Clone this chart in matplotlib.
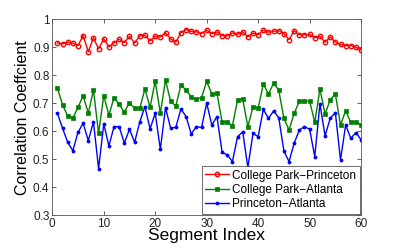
import numpy as np
import matplotlib.pyplot as plt

plt.rcParams['font.family'] = ['Liberation Sans', 'DejaVu Sans']

seg = np.arange(1, 61)
cp_princeton = [0.915, 0.912, 0.918, 0.915, 0.906, 0.942, 0.884, 0.934, 0.894, 0.930,
                0.902, 0.915, 0.929, 0.917, 0.939, 0.915, 0.941, 0.944, 0.922, 0.939,
                0.937, 0.952, 0.930, 0.918, 0.952, 0.963, 0.957, 0.955, 0.949, 0.961,
                0.949, 0.955, 0.942, 0.940, 0.951, 0.946, 0.955, 0.937, 0.951, 0.945,
                0.961, 0.954, 0.957, 0.959, 0.949, 0.927, 0.959, 0.945, 0.945, 0.946,
                0.934, 0.939, 0.918, 0.937, 0.918, 0.910, 0.906, 0.906, 0.900, 0.890]
cp_atlanta = [0.754, 0.694, 0.654, 0.647, 0.685, 0.727, 0.664, 0.747, 0.592, 0.727,
              0.657, 0.720, 0.697, 0.667, 0.702, 0.681, 0.681, 0.751, 0.685, 0.779,
              0.664, 0.783, 0.706, 0.690, 0.765, 0.747, 0.723, 0.715, 0.720, 0.778,
              0.733, 0.735, 0.632, 0.634, 0.619, 0.712, 0.714, 0.616, 0.688, 0.682,
              0.768, 0.733, 0.771, 0.747, 0.646, 0.604, 0.664, 0.706, 0.708, 0.708,
              0.631, 0.750, 0.661, 0.712, 0.733, 0.622, 0.673, 0.631, 0.634, 0.622]
princeton_atlanta = [0.664, 0.610, 0.560, 0.530, 0.596, 0.628, 0.566, 0.633, 0.466, 0.626,
                     0.547, 0.616, 0.616, 0.557, 0.607, 0.560, 0.633, 0.688, 0.608, 0.664,
                     0.535, 0.684, 0.610, 0.614, 0.679, 0.652, 0.590, 0.616, 0.613, 0.700,
                     0.622, 0.652, 0.524, 0.515, 0.491, 0.580, 0.598, 0.470, 0.592, 0.580,
                     0.678, 0.646, 0.672, 0.648, 0.529, 0.491, 0.557, 0.604, 0.616, 0.607,
                     0.509, 0.698, 0.583, 0.646, 0.666, 0.497, 0.622, 0.574, 0.595, 0.569]

fig = plt.figure(figsize=(3.99, 2.49), dpi=100)
ax = fig.add_axes([0.131, 0.1365, 0.774, 0.786])

ax.plot(seg, cp_princeton, color='red', ls='-', marker='o', lw=1, ms=3.2,
        mfc='none', mew=1, label='College Park\u2212Princeton')
ax.plot(seg, cp_atlanta, color='#008000', ls='-', marker='s', lw=1, ms=3.2,
        mew=0.5, label='College Park\u2212Atlanta')
ax.plot(seg, princeton_atlanta, color='blue', ls='-', marker='.', lw=1, ms=3.5,
        label='Princeton\u2212Atlanta')

ax.set_xlim(0, 60)
ax.set_ylim(0.3, 1)
ax.set_xticks(np.arange(0, 61, 10))
ax.set_yticks(np.arange(0.3, 1.01, 0.1))
ax.set_yticklabels(['0.3', '0.4', '0.5', '0.6', '0.7', '0.8', '0.9', '1'])
ax.tick_params(direction='in', top=True, right=True, labelsize=8.5, length=3,
               width=0.5, colors='#222222', pad=2)
for s in ax.spines.values():
    s.set_linewidth(0.6)
    s.set_color('#555555')

ax.set_xlabel('Segment Index', fontsize=12.5, labelpad=-1)
ax.set_ylabel('Correlation Coeffcient', fontsize=11.5, labelpad=2)

leg = ax.legend(loc='lower right', fontsize=8.5, fancybox=False, framealpha=1,
                edgecolor='#555555', handlelength=2, borderpad=0.3,
                labelspacing=0.2, handletextpad=0.3, borderaxespad=0.1)
leg.get_frame().set_linewidth(0.6)

fig.savefig('out.png', dpi=100)
